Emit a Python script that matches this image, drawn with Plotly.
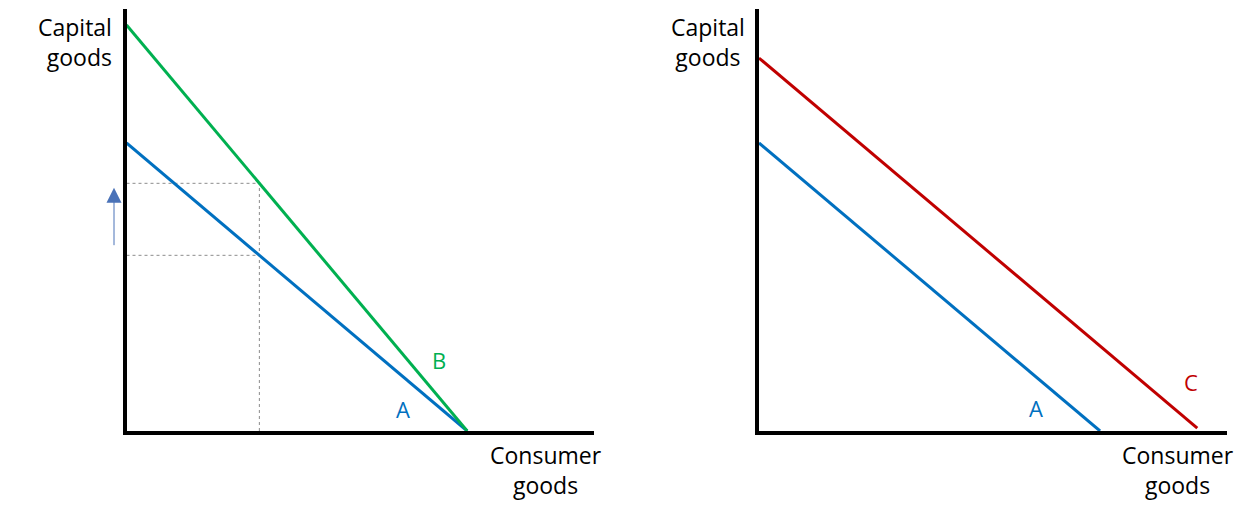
import plotly.graph_objects as go

# ---- data (arbitrary units) ----
cons_A = [0, 10.0]
cap_A = [10.0, 0]
cons_B = [0, 10.0]
cap_B = [14.1, 0]
cons_C = [0, 12.85]
cap_C = [12.95, 0.1]

guide_x = 3.9          # consumer goods level of the dashed guide
guide_y_low = 6.1      # capital goods on A at guide_x
guide_y_high = 8.6     # capital goods on B at guide_x
arrow_from = 6.4
arrow_to = 8.45

axis_title_y = "Capital<br>goods"
axis_title_x = "Consumer<br>goods"

BLUE = "#0070C0"
GREEN = "#00B050"
RED = "#C00000"
FONT = "Open Sans"

PAGE_W, PAGE_H = 1255, 516
OFF = 8  # default body margin of the html page
W, H = PAGE_W - 2 * OFF, PAGE_H - 2 * OFF

# pixel geometry of the axes on the page
X0_L, X1_L = 126.5, 594
X0_R, X1_R = 759, 1227
Y_BOT, Y_TOP = 431, 8.5
PX_PER_X = 34.07
PX_PER_Y = 28.8
XR = [0, (X1_L - X0_L) / PX_PER_X]
YR = [0, (Y_BOT - Y_TOP) / PX_PER_Y]


def px_x(p):
    return (p - OFF) / W


def px_y(p):
    return (H - (p - OFF)) / H


fig = go.Figure()

guide_line = dict(color="#8c8c8c", width=1, dash="3px,3px")
# left panel
fig.add_trace(go.Scatter(x=[0, guide_x], y=[guide_y_high, guide_y_high], mode="lines",
                         line=guide_line, xaxis="x", yaxis="y", hoverinfo="skip"))
fig.add_trace(go.Scatter(x=[0, guide_x], y=[guide_y_low, guide_y_low], mode="lines",
                         line=guide_line, xaxis="x", yaxis="y", hoverinfo="skip"))
fig.add_trace(go.Scatter(x=[guide_x, guide_x], y=[0, guide_y_high], mode="lines",
                         line=guide_line, xaxis="x", yaxis="y", hoverinfo="skip"))
fig.add_trace(go.Scatter(x=cons_A, y=cap_A, mode="lines", line=dict(color=BLUE, width=3),
                         xaxis="x", yaxis="y", name="A"))
fig.add_trace(go.Scatter(x=cons_B, y=cap_B, mode="lines", line=dict(color=GREEN, width=3),
                         xaxis="x", yaxis="y", name="B"))

# right panel
fig.add_trace(go.Scatter(x=cons_A, y=cap_A, mode="lines", line=dict(color=BLUE, width=3),
                         xaxis="x2", yaxis="y2", name="A"))
fig.add_trace(go.Scatter(x=cons_C, y=cap_C, mode="lines", line=dict(color=RED, width=3),
                         xaxis="x2", yaxis="y2", name="C"))

ax_common = dict(range=XR, showgrid=False, zeroline=False, showticklabels=False, ticks="",
                 showline=True, linecolor="black", linewidth=3.5, fixedrange=True)
ay_common = dict(range=YR, showgrid=False, zeroline=False, showticklabels=False, ticks="",
                 showline=True, linecolor="black", linewidth=3.5, fixedrange=True)

fig.update_layout(
    width=W, height=H,
    margin=dict(l=0, r=0, t=0, b=0),
    paper_bgcolor="white", plot_bgcolor="white",
    showlegend=False,
    xaxis=dict(domain=[px_x(X0_L), px_x(X1_L)], anchor="y", **ax_common),
    yaxis=dict(domain=[px_y(Y_BOT), px_y(Y_TOP)], anchor="x", **ay_common),
    xaxis2=dict(domain=[px_x(X0_R), px_x(X1_R)], anchor="y2", **ax_common),
    yaxis2=dict(domain=[px_y(Y_BOT), px_y(Y_TOP)], anchor="x2", **ay_common),
    font=dict(family=FONT, color="black"),
)

ann = []
title_font = dict(size=23, family=FONT, color="black")
# axis titles
ann.append(dict(text=axis_title_y, xref="paper", yref="paper", x=px_x(114), y=px_y(42),
                xanchor="right", yanchor="middle", align="right", showarrow=False, font=title_font))
ann.append(dict(text=axis_title_y, xref="paper", yref="paper", x=px_x(708), y=px_y(42),
                xanchor="center", yanchor="middle", align="center", showarrow=False, font=title_font))
ann.append(dict(text=axis_title_x, xref="paper", yref="paper", x=px_x(546), y=px_y(470),
                xanchor="center", yanchor="middle", align="center", showarrow=False, font=title_font))
ann.append(dict(text=axis_title_x, xref="paper", yref="paper", x=px_x(1178), y=px_y(470),
                xanchor="center", yanchor="middle", align="center", showarrow=False, font=title_font))

# curve labels
ann.append(dict(text="B", xref="x", yref="y", x=9.17, y=2.47, showarrow=False,
                font=dict(size=22, family=FONT, color=GREEN)))
ann.append(dict(text="A", xref="x", yref="y", x=8.12, y=0.76, showarrow=False,
                font=dict(size=22, family=FONT, color=BLUE)))
ann.append(dict(text="A", xref="x2", yref="y2", x=8.13, y=0.79, showarrow=False,
                font=dict(size=22, family=FONT, color=BLUE)))
ann.append(dict(text="C", xref="x2", yref="y2", x=12.68, y=1.70, showarrow=False,
                font=dict(size=22, family=FONT, color=RED)))

# upward arrow (x in paper space, y in data space)
ann.append(dict(text="", xref="paper", yref="y", x=px_x(114), y=arrow_to,
                axref="pixel", ayref="y", ax=0, ay=arrow_from,
                showarrow=True, arrowhead=2, arrowsize=3, arrowwidth=1,
                arrowcolor="#4a72b8"))

fig.update_layout(annotations=ann)

fig.write_html("out.html")
